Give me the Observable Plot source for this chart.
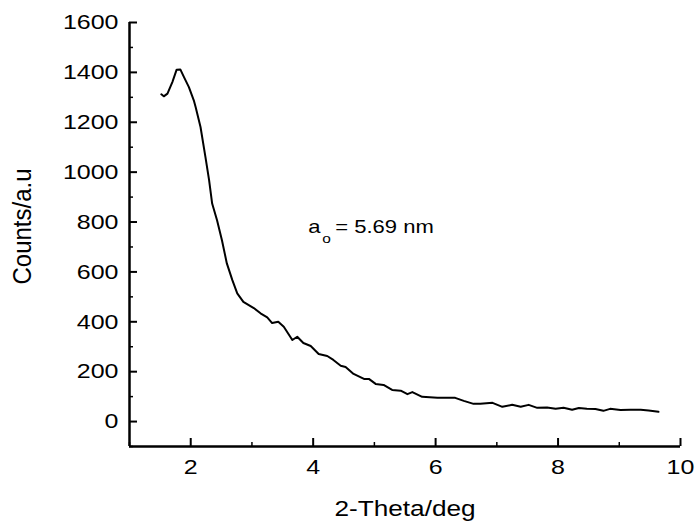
<!DOCTYPE html>
<html>
<head>
<meta charset="utf-8">
<script src="https://cdn.jsdelivr.net/npm/d3@7"></script>
<script src="https://cdn.jsdelivr.net/npm/@observablehq/plot@0.6"></script>
<style>
  html, body { margin: 0; padding: 0; background: #fff; }
  #chart svg { display: block; }
</style>
</head>
<body>
<div id="chart"></div>
<script>
// 2-Theta (deg) values along the curve
const twoTheta = [1.52,1.56,1.62,1.70,1.77,1.83,1.89,1.97,2.05,2.08,2.16,2.24,2.30,2.35,2.43,2.51,2.59,2.68,2.76,2.86,3.03,3.14,3.25,3.33,3.43,3.52,3.66,3.74,3.84,3.96,4.09,4.23,4.33,4.45,4.53,4.66,4.83,4.91,5.02,5.15,5.29,5.43,5.54,5.62,5.78,6.03,6.32,6.46,6.62,6.73,6.93,7.09,7.25,7.39,7.52,7.66,7.82,7.96,8.09,8.23,8.34,8.47,8.61,8.74,8.85,9.02,9.18,9.35,9.48,9.64];
// Counts (a.u.)
const counts = [1312,1304,1315,1361,1411,1412,1381,1341,1288,1261,1181,1061,968,874,807,727,634,567,514,480,455,434,418,395,400,380,327,340,315,303,271,263,247,224,219,191,171,171,151,147,127,124,110,118,99,95,95,83,71,71,75,59,67,59,67,55,56,51,55,47,54,51,50,43,51,46,47,47,44,39];

const xMajorTicks = [2, 4, 6, 8, 10];
const xMinorTicks = [1, 3, 5, 7, 9];
const yMajorTicks = [0, 200, 400, 600, 800, 1000, 1200, 1400, 1600];
const yMinorTicks = [-100, 100, 300, 500, 700, 900, 1100, 1300, 1500];

const xTitle = "2-Theta/deg";
const yTitle = "Counts/a.u";
const annotMain = "a";
const annotSub = "o";
const annotRest = "= 5.69 nm";
const annotX = 3.92;
const annotY = 780;

const data = twoTheta.map((t, i) => ({t, c: counts[i]}));

const font = "'Liberation Sans', Arial, sans-serif";

const chart = Plot.plot({
  width: 697,
  height: 525,
  marginLeft: 129,
  marginRight: 17,
  marginTop: 22,
  marginBottom: 79,
  style: {fontFamily: font, fontSize: "21px", color: "#000", background: "#fff"},
  x: {domain: [1, 10]},
  y: {domain: [-100, 1600]},
  marks: [
    Plot.axisX(xMajorTicks, {tickSize: -8, tickPadding: 21, strokeWidth: 2, fontSize: 21, label: null, tickFormat: d => String(d)}),
    Plot.axisX(xMinorTicks, {tickSize: -4, text: null, strokeWidth: 1.5, label: null}),
    Plot.axisY(yMajorTicks, {tickSize: -8, tickPadding: 19, strokeWidth: 2, fontSize: 21, label: null, tickFormat: d => String(d)}),
    Plot.axisY(yMinorTicks, {tickSize: -4, text: null, strokeWidth: 1.5, label: null}),
    Plot.ruleX([1], {strokeWidth: 2.5}),
    Plot.ruleY([-100], {strokeWidth: 2.5}),
    Plot.line(data, {x: "t", y: "c", stroke: "#000", strokeWidth: 2}),
    Plot.text([xTitle], {frameAnchor: "bottom", dy: 62, fontSize: 22, textAnchor: "middle", lineAnchor: "middle"}),
    Plot.text([yTitle], {frameAnchor: "left", dx: -107, dy: -8, rotate: -90, fontSize: 24, textAnchor: "middle", lineAnchor: "middle"}),
    Plot.text([annotMain], {x: () => annotX, y: () => annotY, textAnchor: "start", fontSize: 18.5, lineAnchor: "middle"}),
    Plot.text([annotSub], {x: () => annotX, y: () => annotY, dx: 14, dy: 12, textAnchor: "start", fontSize: 13, lineAnchor: "middle"}),
    Plot.text([annotRest], {x: () => annotX, y: () => annotY, dx: 27, textAnchor: "start", fontSize: 18.5, lineAnchor: "middle"})
  ]
});

// The reference's lettering is horizontally wider than plain Arial: widen each text around its anchor.
chart.querySelectorAll("text").forEach(t => {
  const tr = t.getAttribute("transform") || "";
  const rotated = /rotate/.test(tr);
  const s = rotated ? 1.08 : 1.19;
  const m = tr.match(/^\s*translate\([^)]*\)/);
  if (m) {
    t.setAttribute("transform", m[0] + ` scale(${s},1)` + tr.slice(m[0].length));
  } else {
    const x = +(t.getAttribute("x") || 0);
    t.setAttribute("transform", `translate(${x},0) scale(${s},1) translate(${-x},0) ` + tr);
  }
});

document.getElementById("chart").appendChild(chart);
</script>
</body>
</html>
